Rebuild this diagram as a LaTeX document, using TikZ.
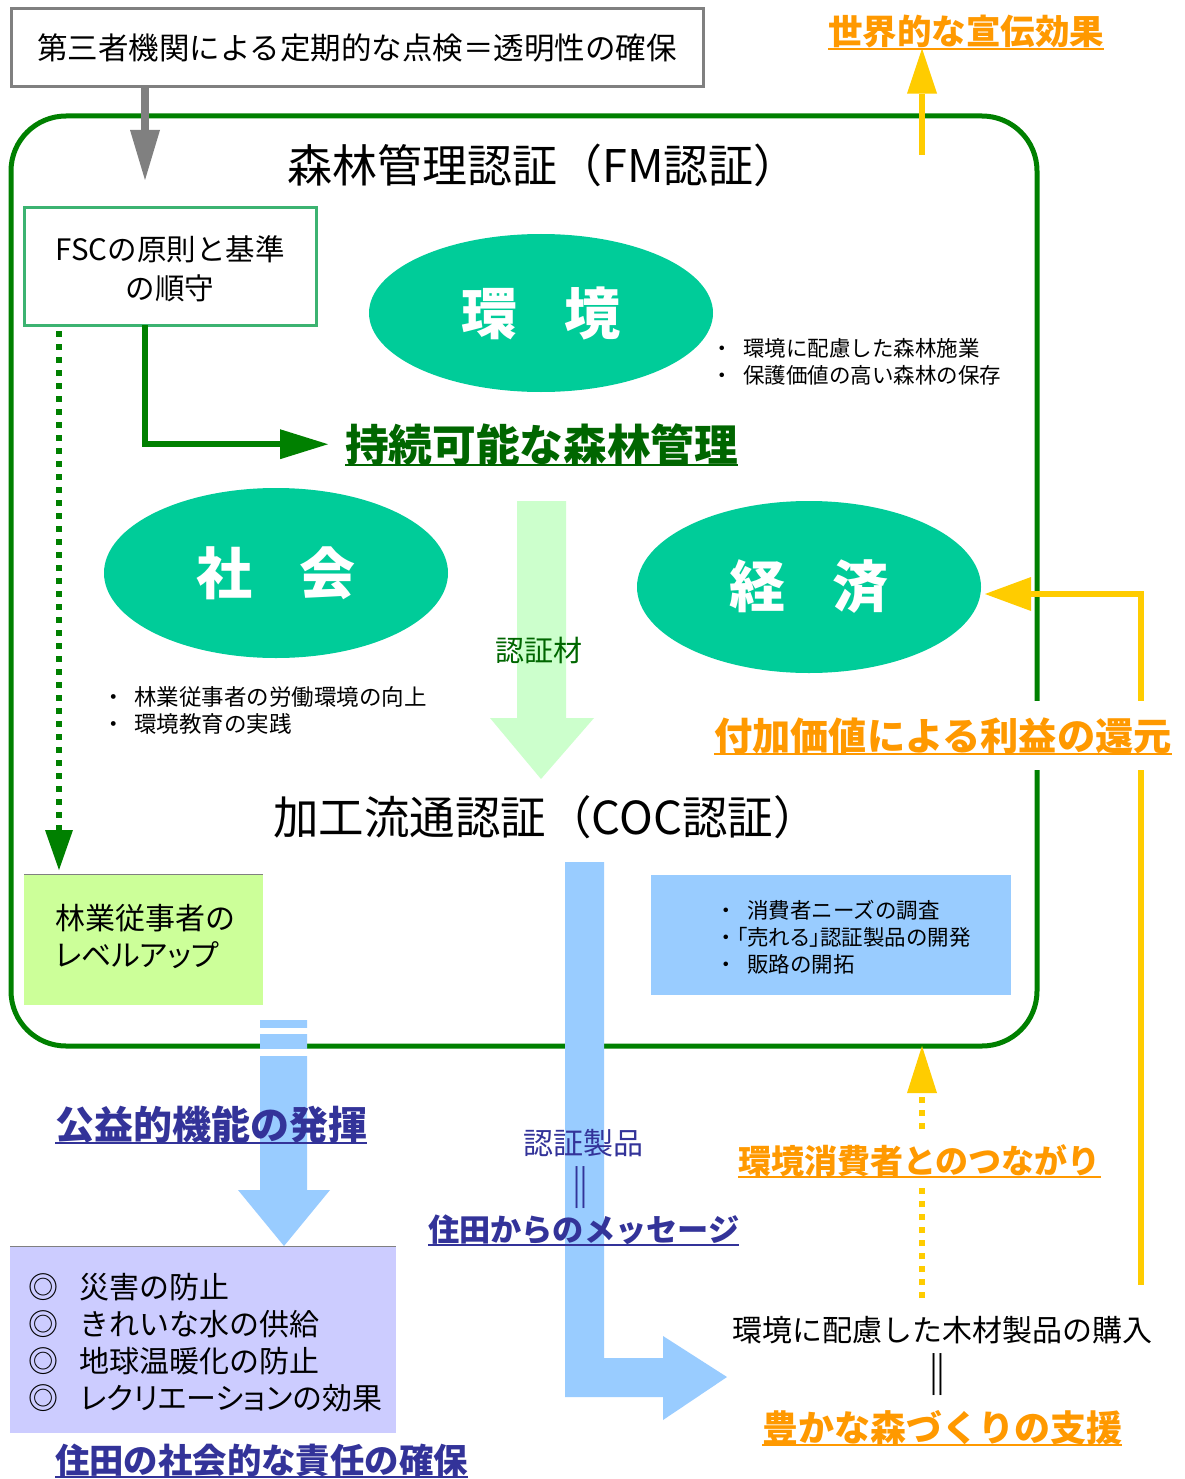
\documentclass[tikz,border=0pt]{standalone}
\usepackage{fontspec}
\setmainfont{Noto Sans CJK JP}
\newfontfamily\pfont{Noto Sans CJK JP}[RawFeature=+palt]
\usetikzlibrary{arrows.meta,shapes.geometric}
\definecolor{gframe}{HTML}{008000}
\definecolor{fscg}{HTML}{3CB371}
\definecolor{ell}{HTML}{00CC99}
\definecolor{dgreen}{HTML}{006600}
\definecolor{lgreen}{HTML}{CCFFCC}
\definecolor{lime}{HTML}{CCFF99}
\definecolor{lblue}{HTML}{99CCFF}
\definecolor{lav}{HTML}{CCCCFF}
\definecolor{navy}{HTML}{333399}
\definecolor{orng}{HTML}{FF9900}
\definecolor{yel}{HTML}{FFCC00}
\definecolor{grayc}{HTML}{808080}
\newcommand\fs[1]{\fontsize{#1}{#1}\selectfont}
\newcommand\ulin[2]{\draw[#2,line width=2pt] ([yshift=-4pt]#1.base west) -- ([yshift=-4pt]#1.base east);}
\begin{document}
\begin{tikzpicture}[x=1pt,y=-1pt,
  every node/.style={inner sep=0pt,outer sep=0pt},
  ellip/.style={ellipse, fill=ell, text=white, font=\fs{56}\bfseries, minimum width=344pt},
  bul/.style={font=\fs{21.5}, anchor=base west},
  jt/.style={font=\fs{#1}, anchor=base},
  head/.style={font=\fs{#1}\bfseries, anchor=base west},
  item/.style={font=\fs{30}, anchor=base west}]
\fill[white] (0,0) rectangle (1184,1479);
\useasboundingbox (0,0) rectangle (1184,1479);

% frame
\node[draw=gframe, line width=5pt, rounded corners=55pt, minimum width=1026pt, minimum height=930pt, anchor=north west] (frame) at (11,116) {};

% light green arrow
\fill[lgreen] (517,501) -- (566,501) -- (566,718) -- (594,718) -- (541,779) -- (490,718) -- (517,718) -- cycle;

% ellipses
\node[ellip, minimum height=158pt] (env) at (541,313) {環\hspace{0.85em}境};
\node[ellip, minimum height=170pt] (soc) at (276,573) {社\hspace{0.85em}会};
\node[ellip, minimum height=172pt] (eco) at (809,587) {経\hspace{0.85em}済};

% third party box
\node[draw=grayc, line width=3pt, minimum width=692pt, minimum height=78pt, anchor=north west, font=\fs{30.5}] (third) at (11,9) {第三者機関による定期的な点検＝透明性の確保};
\coordinate (gend) at (145,180);
\draw[grayc, line width=8pt, -{Triangle[width=30pt,length=50pt,line width=0pt]}] (third.south -| gend) -- (gend);

% FSC box
\node[draw=fscg, line width=3pt, minimum width=292pt, minimum height=117pt, anchor=north west] (fsc) at (24,208) {};
\node[jt=29.5] (fsc1) at (170,261) {FSCの原則と基準};
\node[jt=29.5] (fsc2) at (170,299) {の順守};

% FM title
\node[jt=45] (fm) at (543,183) {森林管理認証（FM認証）};

% env bullets
\node[bul] (eb1) at (711,356) {・\hspace{11pt}環境に配慮した森林施業};
\node[bul] (eb2) at (711,383) {・\hspace{11pt}保護価値の高い森林の保存};

% sustainable
\coordinate (gx) at (145,0);
\node[head=43.7, text=dgreen] (jiz) at (345,461) {持続可能な森林管理};
\draw[gframe, line width=6pt, -{Triangle[width=30pt,length=48pt,line width=0pt]}] (fsc.south -| gx) |- ([xshift=-17pt]jiz.west);

% forestry worker box
\node[fill=lime, minimum width=239pt, minimum height=131pt, anchor=north west] (rin) at (24,874) {};
\draw[gray, line width=0.8pt] (rin.north west) -- (rin.north east);
\node[item] (rin1) at (55,929) {林業従事者の};
\node[item] (rin2) at (55,966) {\pfont レベルアップ};
\coordinate (dx) at (59,0);
\path (fsc.south -| dx) coordinate (dtop);
\path (rin.north -| dx) coordinate (dbot);
\draw[gframe, line width=6pt, dash pattern=on 6pt off 7pt, -{Triangle[width=28pt,length=40pt,line width=0pt]}] ([yshift=-6pt]dtop) -- ([yshift=4pt]dbot);

% society bullets
\node[bul, font=\fs{22.5}] (sb1) at (102,705) {・\hspace{10pt}林業従事者の労働環境の向上};
\node[bul, font=\fs{22.5}] (sb2) at (102,732) {・\hspace{10pt}環境教育の実践};

% certified material
\node[jt=29, text=dgreen] (zai) at (539,661) {認証材};

% COC title
\node[jt=45.5] (coc) at (546,834) {加工流通認証（COC認証）};

% market box
\node[fill=lblue, minimum width=360pt, minimum height=120pt, anchor=north west] (mkt) at (651,875) {};
\node[bul] (mb1) at (715,918) {・\hspace{11pt}消費者ニーズの調査};
\node[bul] (mb2) at (715,945) {・{\pfont 「売れる」}認証製品の開発};
\node[bul] (mb3) at (715,972) {・\hspace{11pt}販路の開拓};

% big blue L arrow
\fill[lblue] (565,862) -- (604,862) -- (604,1358) -- (663,1358) -- (663,1336) -- (727,1377) -- (663,1420) -- (663,1397) -- (565,1397) -- cycle;

% small blue arrow with equal sign
\fill[lblue] (260,1020) -- (307,1020) -- (307,1190) -- (330,1190) -- (284,1246) -- (238,1190) -- (260,1190) -- cycle;
\fill[white] (256,1028) rectangle (311,1034);
\fill[white] (256,1049) rectangle (311,1056);

% public function box
\node[fill=lav, minimum width=386pt, minimum height=187pt, anchor=north west] (pub) at (10,1246) {};
\draw[gray, line width=0.8pt] (pub.north west) -- (pub.north east);
\node[item] (p1) at (28,1298) {◎\hspace{22pt}災害の防止};
\node[item] (p2) at (28,1335) {◎\hspace{22pt}きれいな水の供給};
\node[item] (p3) at (28,1372) {◎\hspace{22pt}地球温暖化の防止};
\node[item] (p4) at (28,1409) {◎\hspace{22pt}{\pfont レクリエーション}の効果};

% navy texts
\node[head=39, text=navy] (kou) at (55,1139) {公益的機能の発揮};
\node[head=34.4, text=navy] (seki) at (55,1473) {住田の社会的な責任の確保};
\node[jt=30, text=navy] (sei) at (583,1154) {認証製品};
\node[jt=42, text=navy, font=\fs{42}\bfseries] (eq1) at (580,1203) {‖};
\node[head=31.2, text=navy] (msg) at (428,1241) {住田からのメッセージ};

% world effect
\node[head=34.5, text=orng] (sekai) at (828,45) {世界的な宣伝効果};
\coordinate (ytop) at (922,155);
\draw[yel, line width=6pt, -{Triangle[width=30pt,length=45pt,line width=0pt]}] (ytop) -- (ytop |- sekai.south);

% profit return
\coordinate (ybot) at (1141,1285);
\draw[yel, line width=6pt, -{Triangle[width=34pt,length=46pt,line width=0pt]}] (ybot) |- ([xshift=4pt,yshift=-7pt]eco.east);
\node[head=38.25, text=orng, fill=white, inner ysep=16pt] (rieki) at (714,750) {付加価値による利益の還元};

% consumer link
\coordinate (ydot) at (922,1298);
\draw[yel, line width=6pt, dash pattern=on 6pt off 7pt, -{Triangle[width=30pt,length=47pt,line width=0pt]}] (ydot) -- (ydot |- frame.south);
\node[head=33, text=orng, fill=white, inner ysep=9pt] (tsuna) at (738,1173) {環境消費者とのつながり};

% purchase
\node[jt=30] (kounyu) at (942,1341) {環境に配慮した木材製品の購入};
\node[jt=42, font=\fs{42}\bfseries] (eq2) at (937,1390) {‖};
\node[head=36, text=orng] (yuta) at (762,1441) {豊かな森づくりの支援};

% underlines
\ulin{sekai}{orng}
\ulin{jiz}{dgreen}
\ulin{kou}{navy}
\ulin{seki}{navy}
\ulin{msg}{navy}
\ulin{rieki}{orng}
\ulin{tsuna}{orng}
\ulin{yuta}{orng}
\end{tikzpicture}
\end{document}
